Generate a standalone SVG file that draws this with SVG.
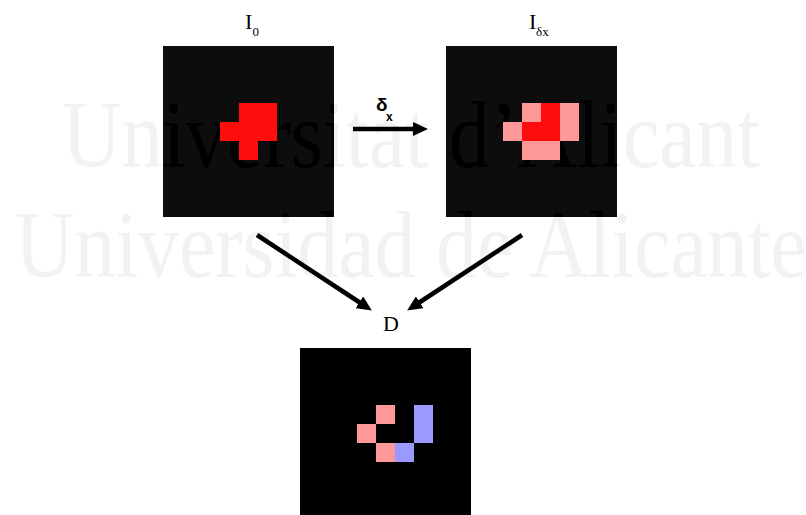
<svg xmlns="http://www.w3.org/2000/svg" width="806" height="515" viewBox="0 0 806 515">
<style>
.wm{font-family:"Liberation Serif","Times New Roman",serif;font-size:95px}
.lbl{font-family:"Liberation Serif","Times New Roman",serif;fill:#000}
.sym{font-family:"Liberation Sans",Arial,sans-serif;font-weight:bold;fill:#000}
.conn{stroke:#000;stroke-width:4.5;fill:none;marker-end:url(#ah)}
.red{fill:#ff0d0d}
.pink{fill:#ff9999}
.blue{fill:#9999ff}
</style>
<defs>
<marker id="ah" viewBox="0 0 15 14" refX="5" refY="7" markerWidth="15" markerHeight="14" markerUnits="userSpaceOnUse" orient="auto">
<path d="M0,0 L15,7 L0,14 Z" fill="#000"/>
</marker>
<clipPath id="sqclip">
<rect x="163" y="46" width="171" height="171"/>
<rect x="446" y="46" width="171" height="171"/>
</clipPath>
</defs>
<rect width="806" height="515" fill="#fff"/>
<g id="watermark">
<text class="wm" x="62" y="167" textLength="698" lengthAdjust="spacingAndGlyphs" fill="#f2f2f2">Universitat d’Alicant</text>
<text class="wm" x="15" y="277" font-size="96" textLength="792" lengthAdjust="spacingAndGlyphs" fill="#f2f2f2">Universidad de Alicante</text>
</g>
<g id="I0">
<rect x="163" y="46" width="171" height="171" fill="#0d0d0d"/>
<text class="lbl" x="245" y="29" font-size="22">I</text>
<text class="lbl" x="252.5" y="36" font-size="13">0</text>
</g>
<g id="Idx">
<rect x="446" y="46" width="171" height="171" fill="#0d0d0d"/>
<text class="lbl" x="529" y="29" font-size="22">I</text>
<text class="lbl" x="536" y="36" font-size="13">δx</text>
</g>
<g id="watermark-dark" clip-path="url(#sqclip)">
<text class="wm" x="62" y="167" textLength="698" lengthAdjust="spacingAndGlyphs" fill="#000">Universitat d’Alicant</text>
<text class="wm" x="15" y="277" font-size="96" textLength="792" lengthAdjust="spacingAndGlyphs" fill="#000">Universidad de Alicante</text>
</g>
<g id="I0-pixels">
<rect class="red" x="239" y="103" width="38" height="19"/>
<rect class="red" x="220" y="122" width="57" height="19"/>
<rect class="red" x="239" y="141" width="19" height="19"/>
</g>
<g id="Idx-pixels">
<rect class="pink" x="522" y="103" width="19" height="19"/>
<rect class="red" x="541" y="103" width="19" height="19"/>
<rect class="pink" x="560" y="103" width="19" height="38"/>
<rect class="pink" x="503" y="122" width="19" height="19"/>
<rect class="red" x="522" y="122" width="38" height="19"/>
<rect class="pink" x="522" y="141" width="38" height="19"/>
</g>
<g id="D">
<text class="lbl" x="383" y="331" font-size="22">D</text>
<rect x="300" y="348" width="171" height="171" fill="#000"/>
<rect class="pink" x="376" y="405" width="19" height="19"/>
<rect class="pink" x="357" y="424" width="19" height="19"/>
<rect class="pink" x="376" y="443" width="19" height="19"/>
<rect class="blue" x="414" y="405" width="19" height="38"/>
<rect class="blue" x="395" y="443" width="19" height="19"/>
</g>
<g id="connectors">
<line class="conn" x1="353" y1="129" x2="418" y2="129"/>
<text class="sym" x="376" y="111" font-size="19">δ</text>
<text class="sym" x="386" y="121" font-size="12">x</text>
<line class="conn" x1="257" y1="235" x2="363.5" y2="305"/>
<line class="conn" x1="522" y1="235" x2="415.5" y2="305"/>
</g>
</svg>
